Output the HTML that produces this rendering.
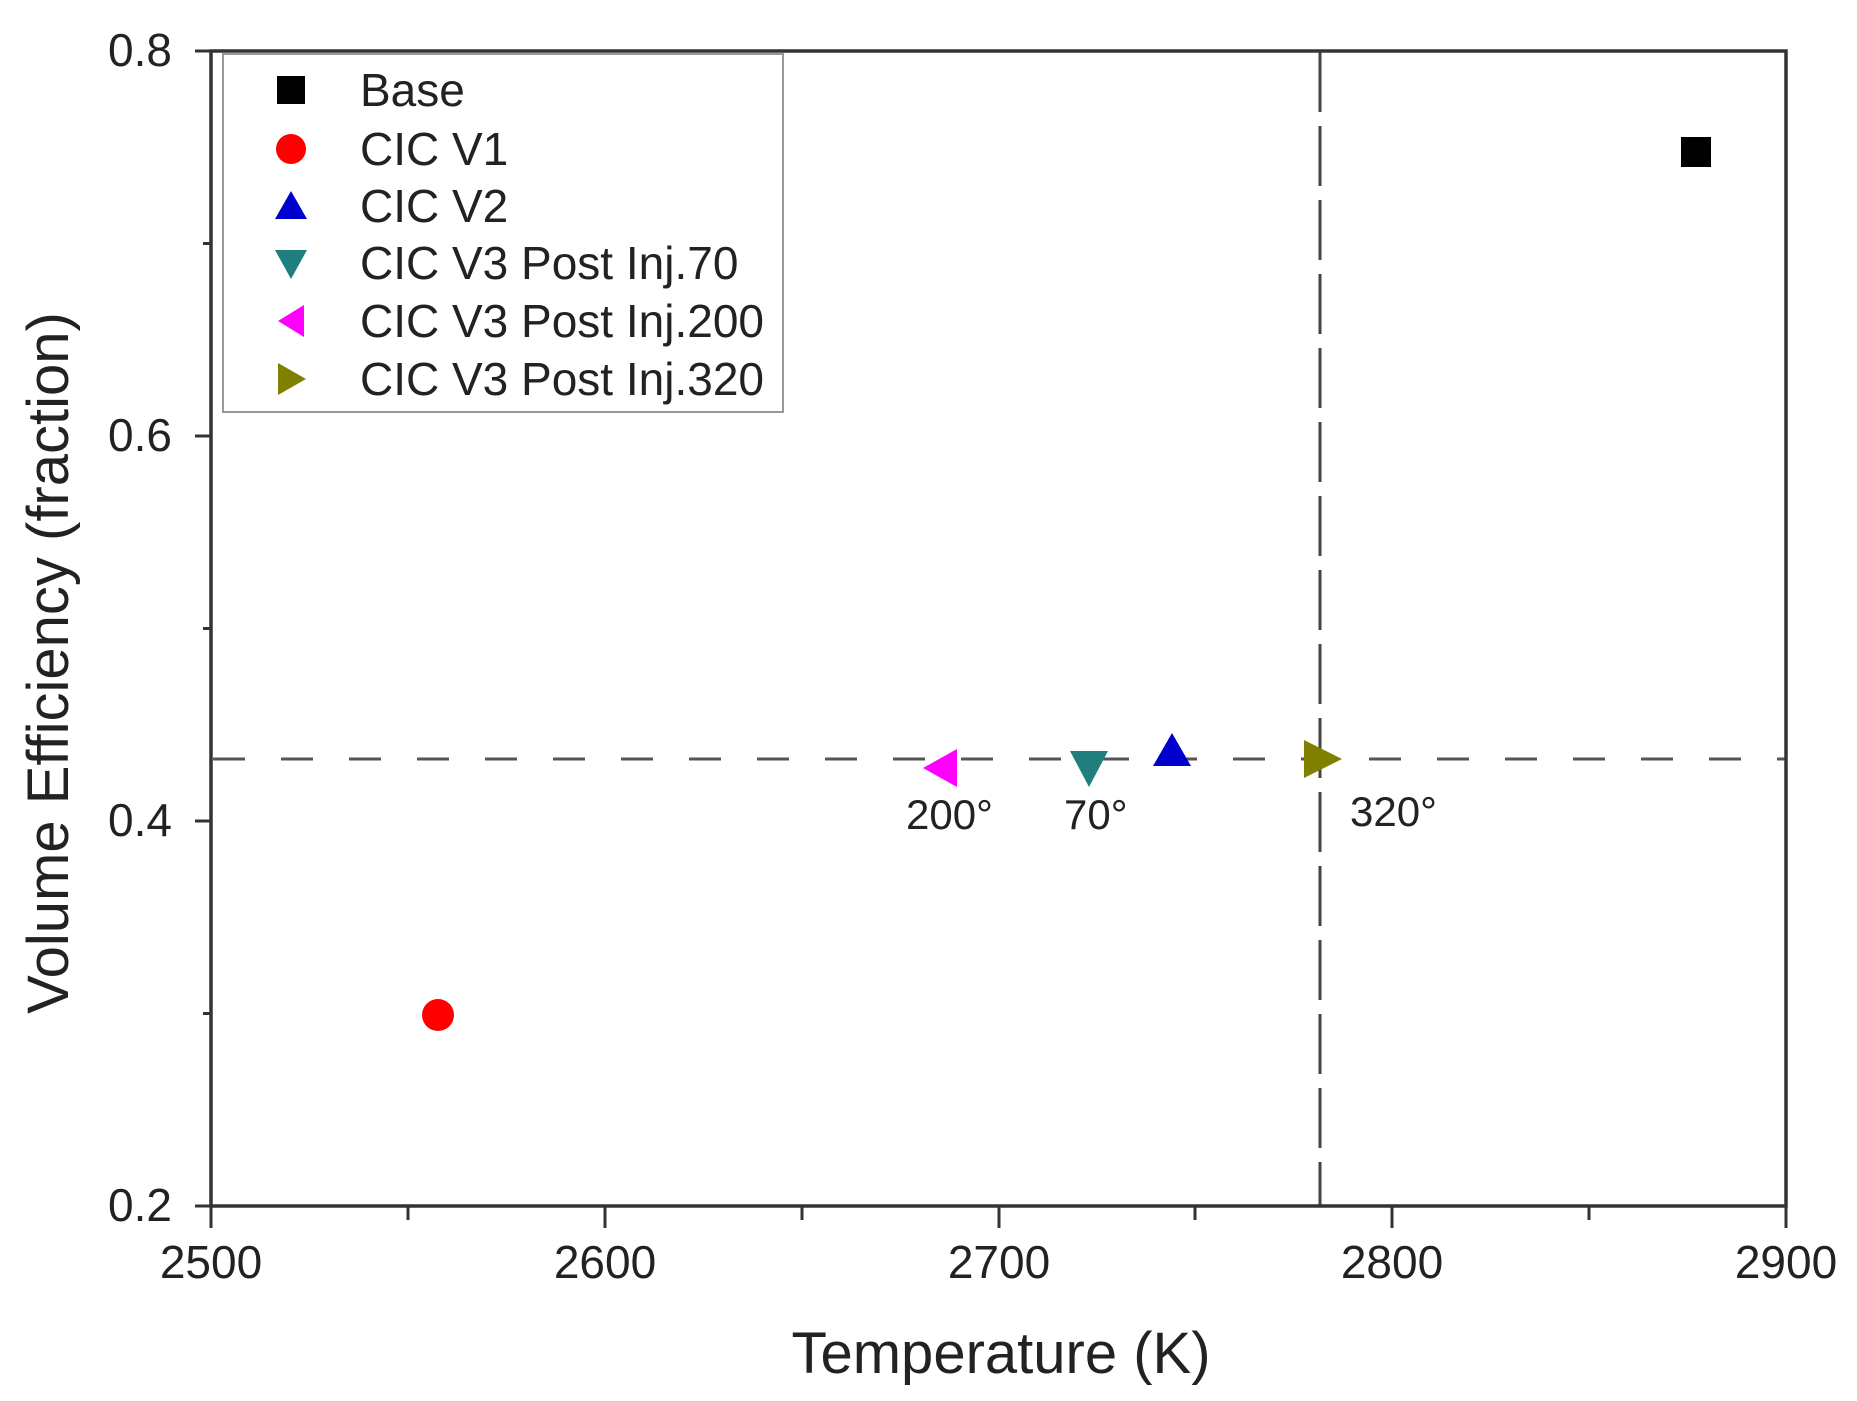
<!DOCTYPE html>
<html><head><meta charset="utf-8"><style>
html,body{margin:0;padding:0;background:#fff;}
svg{display:block;}
text{font-family:"Liberation Sans",Arial,sans-serif;fill:#222;}
</style></head><body>
<svg width="1857" height="1401" viewBox="0 0 1857 1401" xmlns="http://www.w3.org/2000/svg">
<rect width="1857" height="1401" fill="#fff"/>
<line x1="213" y1="759" x2="1786" y2="759" stroke="#555" stroke-width="3" stroke-dasharray="32,36"/>
<line x1="1320" y1="52" x2="1320" y2="1205" stroke="#444" stroke-width="3" stroke-dasharray="60,14"/>
<rect x="211" y="51" width="1575" height="1155" fill="none" stroke="#333" stroke-width="3.5"/>
<g stroke="#333" stroke-width="3">
<line x1="195" y1="51" x2="211" y2="51"/>
<line x1="203" y1="243.5" x2="211" y2="243.5"/>
<line x1="195" y1="436" x2="211" y2="436"/>
<line x1="203" y1="628.5" x2="211" y2="628.5"/>
<line x1="195" y1="821" x2="211" y2="821"/>
<line x1="203" y1="1013.5" x2="211" y2="1013.5"/>
<line x1="195" y1="1206" x2="211" y2="1206"/>
<line x1="211" y1="1206" x2="211" y2="1228"/>
<line x1="408" y1="1206" x2="408" y2="1220"/>
<line x1="605" y1="1206" x2="605" y2="1228"/>
<line x1="802" y1="1206" x2="802" y2="1220"/>
<line x1="999" y1="1206" x2="999" y2="1228"/>
<line x1="1195" y1="1206" x2="1195" y2="1220"/>
<line x1="1392" y1="1206" x2="1392" y2="1228"/>
<line x1="1589" y1="1206" x2="1589" y2="1220"/>
<line x1="1786" y1="1206" x2="1786" y2="1228"/>
</g>
<g font-size="46" text-anchor="end">
<text x="172" y="66">0.8</text>
<text x="172" y="451">0.6</text>
<text x="172" y="836">0.4</text>
<text x="172" y="1221">0.2</text>
</g>
<g font-size="46" text-anchor="middle">
<text x="211" y="1278">2500</text>
<text x="605" y="1278">2600</text>
<text x="999" y="1278">2700</text>
<text x="1392" y="1278">2800</text>
<text x="1786" y="1278">2900</text>
</g>
<text x="1001" y="1373" font-size="58" text-anchor="middle">Temperature (K)</text>
<text transform="translate(68,663) rotate(-90)" font-size="58" text-anchor="middle">Volume Efficiency (fraction)</text>
<rect x="223" y="54" width="560" height="358" fill="#fff" stroke="#999" stroke-width="2"/>
<g font-size="46">
<rect x="277" y="76" width="28" height="28" fill="#000"/>
<text x="360" y="106">Base</text>
<circle cx="291" cy="149" r="15" fill="#f00"/>
<text x="360" y="165">CIC V1</text>
<polygon points="275,219 307,219 291,191" fill="#00c"/>
<text x="360" y="222">CIC V2</text>
<polygon points="275,250 307,250 291,279" fill="#1f7f7f"/>
<text x="360" y="279">CIC V3 Post Inj.70</text>
<polygon points="278,321 304,305 304,337" fill="#f0f"/>
<text x="360" y="337">CIC V3 Post Inj.200</text>
<polygon points="278,363 306,379 278,395" fill="#808000"/>
<text x="360" y="395">CIC V3 Post Inj.320</text>
</g>
<rect x="1681" y="137" width="30" height="30" fill="#000"/>
<circle cx="438" cy="1015" r="16" fill="#f00"/>
<polygon points="1153,766 1191,766 1172,733" fill="#00c"/>
<polygon points="1070,751 1108,751 1089,787" fill="#1f7f7f"/>
<polygon points="923,768 957,749 957,787" fill="#f0f"/>
<polygon points="1304,740 1342,759 1304,778" fill="#808000"/>
<g font-size="42">
<text x="906" y="829">200°</text>
<text x="1064" y="829">70°</text>
<text x="1350" y="826">320°</text>
</g>
</svg>
</body></html>
